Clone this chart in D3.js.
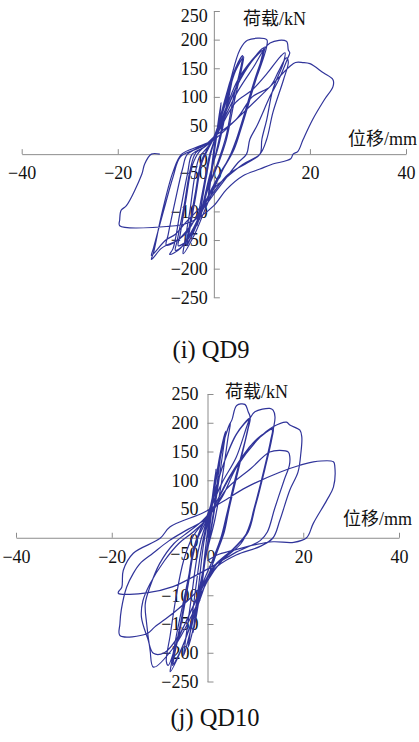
<!DOCTYPE html>
<html>
<head>
<meta charset="utf-8">
<script src="https://cdn.jsdelivr.net/npm/d3@7"></script>
<style>
  html, body { margin: 0; padding: 0; background: #fff; }
  svg { display: block; }
</style>
</head>
<body>
<svg id="chart" width="419" height="742"></svg>
<script>
// ---------- data ----------
const xTicks = [-40, -20, 0, 20, 40];
const yTicks = [-250, -200, -150, -100, -50, 0, 50, 100, 150, 200, 250];
const xTitle = ["位移", "/mm"];
const yTitle = ["荷载", "/kN"];
const captions = ["(i) QD9", "(j) QD10"];

// QD9 hysteresis: cycles of [displacement mm, load kN]
const qd9Loops = [
  [[0,0],[0.8,50],[1.5,90],[1.2,65],[0.3,15],[-0.4,-30],[-1.2,-80],[-1,-60],[-0.2,-5],[0.3,25]],
  [[1.5,70],[2.8,110],[3.5,130],[3.2,110],[2,60],[0.8,15],[-0.5,-30],[-2,-85],[-3,-115],[-2.8,-100],[-1.8,-50],[-0.8,-5],[0,20]],
  [[1.8,75],[3.2,120],[4,140],[3.6,120],[2.3,65],[1,15],[-0.8,-35],[-2.5,-95],[-3.5,-125],[-3.2,-105],[-2,-50],[-1,-5],[0,22]],
  [[2.5,95],[4.5,150],[6,172],[5.7,155],[4,95],[2.5,30],[1,-10],[-1,-55],[-3,-110],[-5,-150],[-5.6,-160],[-5.2,-140],[-3.8,-75],[-2.5,-15],[-1,12],[0,28]],
  [[2.5,90],[4.5,145],[6.2,170],[5.8,150],[4.2,90],[2.6,25],[1,-15],[-1.2,-60],[-3.2,-115],[-5.2,-152],[-5.8,-158],[-5.3,-135],[-3.9,-70],[-2.6,-12],[-1,14],[0,30]],
  [[2,80],[3.5,130],[5.4,182],[7,199],[11,200],[11,188],[10,160],[7.5,101],[4.7,26],[3.5,0],[2,-25],[0,-60],[-2,-100],[-4,-140],[-6.4,-174],[-6.2,-160],[-5,-100],[-4,-40],[-3,-5],[-1.5,10],[0,28]],
  [[2.5,80],[5,130],[8,165],[10.6,187],[10.3,175],[8.5,130],[6,60],[4.5,15],[3,-10],[0,-55],[-3,-110],[-5.5,-150],[-7.4,-160],[-7,-140],[-5.8,-80],[-4.5,-20],[-3,5],[0,26]],
  [[3,85],[6,140],[10.3,185],[10,170],[8,110],[5.5,40],[4,5],[1.5,-30],[-1,-70],[-4,-125],[-7,-165],[-9.2,-175],[-8.5,-165],[-7,-100],[-5.5,-35],[-4.5,0],[-2,12],[0,28]],
  [[2.8,80],[5.5,130],[8.5,168],[10.4,182],[10.1,168],[8.2,115],[5.8,48],[4.2,8],[1.8,-28],[-0.8,-66],[-3.5,-118],[-6.2,-158],[-8,-168],[-7.6,-150],[-6.2,-90],[-5,-30],[-3.8,2],[-1.8,14],[0,30]],
  [[2,60],[5,110],[8.1,150],[11.7,194],[15.1,197],[15.5,182],[15.8,177],[15.4,168],[13.5,130],[11.7,101],[9,50],[7.5,26],[6.8,0],[5,-15],[2.7,-40],[0,-70],[-4.4,-120],[-7.5,-150],[-9.9,-159],[-11,-165],[-13,-184],[-12.5,-170],[-11,-110],[-8.5,-31],[-6.7,0],[-3,14],[0,26]],
  [[1.2,43],[4.5,90],[8.1,113],[11,140],[13.8,170],[14.8,177],[14.5,160],[12.3,113],[11,60],[10,26],[9.6,0],[7,-15],[3,-35],[0,-66],[-3,-100],[-6,-140],[-9.9,-159],[-9.5,-140],[-8,-80],[-6.5,-25],[-5.5,0],[-2,15],[0,30]],
  [[4.7,61],[8,100],[11.7,118],[13.5,145],[15.1,168],[15.5,161],[14.5,130],[12.3,73],[11,26],[9.6,0],[6,-18],[2,-45],[0,-60],[-2.5,-90],[-5.7,-118],[-8,-140],[-10,-150],[-13,-177],[-12.6,-165],[-10.5,-100],[-8.5,-40],[-7,-5],[-4,8],[0,25]],
  [[4.7,61],[11.7,118],[15.8,153],[17,160],[18.5,160],[20,158],[22.8,142],[24.8,130],[24.8,118],[23,95],[20.6,61],[18.6,26],[17.5,5],[16.5,0],[16,-8],[12,-18],[9.6,-26],[6,-38],[2.7,-61],[0,-90],[-3,-110],[-6,-122],[-8,-125],[-19.6,-125],[-19.6,-115],[-19.3,-98],[-18.2,-90],[-15,-35],[-14.4,-17],[-13,0],[-11.25,0]]
];

// QD10 hysteresis
const qd10Loops = [
  [[0,0],[1,70],[1.8,120],[1.5,95],[0.5,20],[-0.5,-40],[-1.6,-110],[-1.3,-85],[-0.3,-10],[0.3,30]],
  [[1.5,90],[2.5,140],[3,160],[2.7,140],[1.8,80],[0.8,20],[-0.8,-50],[-2,-120],[-3,-165],[-2.8,-150],[-1.8,-80],[-0.8,-10],[0,25]],
  [[1.8,100],[3,160],[3.8,185],[3.4,160],[2.2,90],[1,25],[-1,-60],[-2.5,-140],[-4,-190],[-3.7,-170],[-2.5,-90],[-1.2,-15],[0,30]],
  [[2,110],[3.5,170],[4.8,200],[4.3,175],[3,100],[1.5,30],[0,-20],[-1.5,-80],[-3.2,-150],[-5,-205],[-4.7,-185],[-3.3,-100],[-2,-25],[-0.5,20],[0.5,40]],
  [[2.8,150],[4.5,195],[5.1,205],[6.1,230],[7.8,232],[8.5,219],[8.9,210],[8.2,180],[6,110],[4,40],[2.8,0],[1,-40],[-1,-80],[-3.5,-150],[-6,-205],[-7.8,-233],[-7.6,-222],[-6.5,-170],[-4.5,-90],[-3,-30],[-2,0],[-0.5,25],[0.5,45]],
  [[3,120],[6,180],[8.9,208],[8.5,190],[6.5,120],[4.5,50],[3.5,10],[2,-25],[0,-70],[-3,-140],[-5.5,-195],[-7.1,-219],[-6.8,-200],[-5.5,-150],[-4,-80],[-2.8,-20],[-1.5,15],[0,40]],
  [[3.2,125],[6.2,182],[8.7,205],[8.3,185],[6.3,115],[4.3,45],[3.3,8],[1.8,-28],[-0.2,-75],[-3.2,-145],[-5.7,-198],[-7.3,-222],[-7,-203],[-5.7,-152],[-4.2,-82],[-3,-22],[-1.6,12],[0,38]],
  [[3,95],[6,140],[8.9,208],[9.9,219],[13,225],[13.7,222],[14.1,210],[13.7,187],[12.5,140],[10.5,70],[8.5,15],[7,-10],[3,-40],[0,-75],[-3,-130],[-7,-190],[-11.3,-225],[-12,-195],[-12.7,-150],[-13,-115],[-12,-85],[-10,-45],[-7,-10],[-4,10],[-1,30],[1,50]],
  [[5,110],[9,160],[11,175],[13.7,190],[13.5,175],[12,120],[10,55],[8.5,10],[6,-15],[2,-45],[0,-70],[-3,-120],[-6,-170],[-9,-200],[-11.3,-201],[-12.5,-175],[-13.8,-138],[-13.5,-110],[-12,-80],[-9,-40],[-6,-10],[-3,10],[0,35]],
  [[4.5,105],[8.5,155],[11.2,178],[13.5,188],[13.2,170],[11.7,115],[9.7,50],[8.2,8],[5.5,-18],[1.5,-48],[-0.5,-75],[-3.5,-128],[-6.3,-180],[-8.2,-222],[-8.6,-215],[-7.8,-170],[-6.5,-100],[-5,-40],[-3.2,0],[-1,25],[0,35]],
  [[3,70],[6.1,123],[11,175],[13.7,193],[16.5,201],[17.2,196],[19.3,187],[19.7,175],[19.5,147],[18.9,114],[17.2,83],[15.1,30],[13.7,0],[11,-15],[6,-30],[2,-50],[0,-70],[-3,-100],[-7,-130],[-11,-155],[-12.7,-167],[-18.3,-170],[-18.3,-150],[-18,-125],[-16.9,-86],[-15.5,-62],[-14.1,-45],[-11.4,-27],[-8,-5],[-4,15],[0,35]],
  [[4,85],[9,120],[13,149],[15.1,152],[16.9,149],[17.2,140],[17.1,126],[16,100],[14,50],[12.5,10],[11,-5],[6,-25],[2,-45],[-3,-68],[-7.2,-85],[-12.7,-96],[-18.6,-97],[-18.6,-94],[-17.9,-86],[-17.6,-57],[-15.5,-27],[-9.9,-1],[-7.8,19],[-1,43],[2.6,60],[8.2,88]],
  [[15.1,114],[19.3,126],[22.1,132],[26.3,132],[26.6,123],[26.3,88],[24.9,65],[22.1,25],[20.7,0],[18,-8],[13.7,-7],[10,-12],[5.3,-22],[2,-30],[0,-40]]
];

// ---------- layout ----------
const panels = [
  { loops: qd9Loops, caption: captions[0],
    xr: [21.7, 406], yr: [297.3, 11], tickPadY: 6,
    yTitlePos: [243, 25], xTitlePos: [348, 144.5], capPos: [211, 358],
    nudge: { "250": 5, "0": 6, "-50": -10 } },
  { loops: qd10Loops, caption: captions[1],
    xr: [16, 399], yr: [681.5, 394], tickPadY: 9,
    yTitlePos: [225, 398], xTitlePos: [343, 525], capPos: [215, 726],
    nudge: { "0": 3, "-50": -13 } }
];

const SERIF = '"Liberation Serif"';
const CJK = '"Noto Sans CJK SC"';
const svg = d3.select("#chart");
const lineColor = "#30349a";
const axisColor = "#8c8c8c";
const textColor = "#111";
const fmt = d => d < 0 ? "\u2212" + Math.abs(d) : String(d);

function serifText(sel, size) {
  return sel.attr("font-family", "Liberation Serif")
    .style("font-family", SERIF).style("font-size", size + "px").style("fill", textColor);
}

function title(g, pos, parts) {
  const t = serifText(g.append("text").attr("x", pos[0]).attr("y", pos[1]), 18);
  t.append("tspan").attr("font-family", "Noto Sans CJK SC").style("font-family", CJK).text(parts[0]);
  t.append("tspan").attr("font-family", "Liberation Serif").style("font-family", SERIF).text(parts[1]);
}

panels.forEach(p => {
  const x = d3.scaleLinear().domain([-40, 40]).range(p.xr);
  const y = d3.scaleLinear().domain([-250, 250]).range(p.yr);
  const g = svg.append("g");

  // x axis
  const gx = g.append("g")
    .attr("transform", `translate(0,${y(0)})`)
    .call(d3.axisBottom(x).tickValues(xTicks).tickSizeInner(-5).tickSizeOuter(0).tickPadding(12).tickFormat(fmt));
  gx.attr("font-family", "Liberation Serif").attr("font-size", 18);
  gx.selectAll("path, line").attr("stroke", axisColor);
  serifText(gx.selectAll("text"), 18).attr("dx", d => d === 0 ? 3 : 0);

  // y axis
  const gy = g.append("g")
    .attr("transform", `translate(${x(0)},0)`)
    .call(d3.axisLeft(y).tickValues(yTicks).tickSizeInner(-6).tickSizeOuter(0).tickPadding(p.tickPadY).tickFormat(fmt));
  gy.attr("font-family", "Liberation Serif").attr("font-size", 18);
  gy.selectAll("path, line").attr("stroke", axisColor);
  serifText(gy.selectAll("text"), 18).attr("y", d => p.nudge[String(d)] || 0);

  // hysteresis curve
  const line = d3.line().x(d => x(d[0])).y(d => y(d[1])).curve(d3.curveCatmullRom.alpha(0.5));
  g.append("path").datum(p.loops.flat())
    .attr("fill", "none").attr("stroke", lineColor).attr("stroke-width", 1.2)
    .attr("stroke-linejoin", "round").attr("d", line);

  // titles
  title(g, p.yTitlePos, yTitle);
  title(g, p.xTitlePos, xTitle);
  serifText(g.append("text").attr("x", p.capPos[0]).attr("y", p.capPos[1]).attr("text-anchor", "middle"), 24.5)
    .text(p.caption);
});
</script>
</body>
</html>
